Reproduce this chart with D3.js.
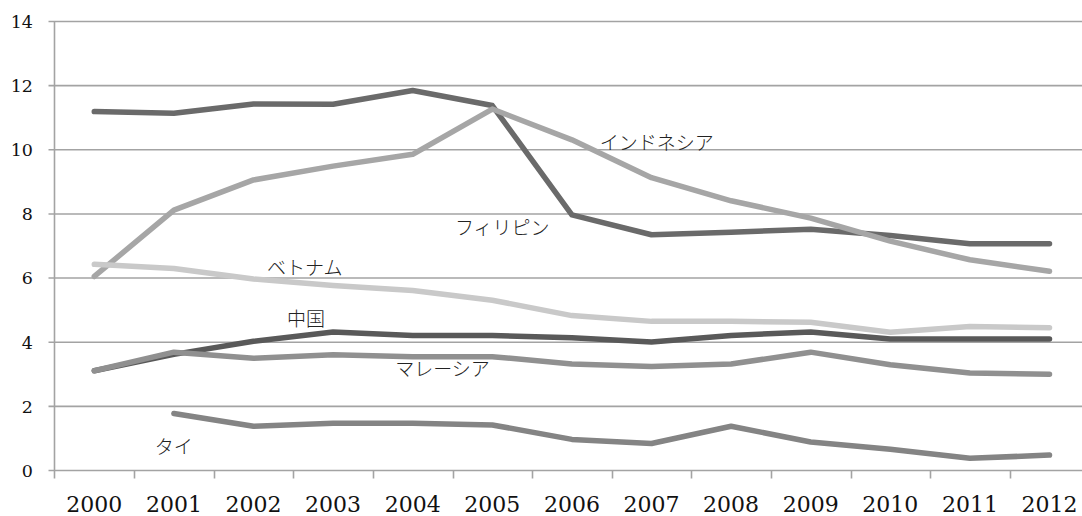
<!DOCTYPE html>
<html>
<head>
<meta charset="utf-8">
<script src="https://cdn.jsdelivr.net/npm/d3@7"></script>
<style>
  body { margin: 0; background: #fff; }
  svg { display: block; }
</style>
</head>
<body>
<div id="chart"></div>
<script>
var years = [2000, 2001, 2002, 2003, 2004, 2005, 2006, 2007, 2008, 2009, 2010, 2011, 2012];
var yTicks = [0, 2, 4, 6, 8, 10, 12, 14];

var china       = [3.11, 3.62, 4.03, 4.32, 4.21, 4.21, 4.14, 4.01, 4.21, 4.32, 4.10, 4.10, 4.10];
var philippines = [11.19, 11.14, 11.43, 11.42, 11.85, 11.38, 7.97, 7.35, 7.43, 7.52, 7.33, 7.07, 7.07];
var indonesia   = [6.05, 8.12, 9.06, 9.49, 9.86, 11.27, 10.31, 9.13, 8.41, 7.87, 7.15, 6.57, 6.21];
var vietnam     = [6.43, 6.30, 5.97, 5.77, 5.61, 5.31, 4.83, 4.65, 4.65, 4.62, 4.31, 4.49, 4.45];
var malaysia    = [3.11, 3.69, 3.50, 3.61, 3.55, 3.55, 3.32, 3.24, 3.32, 3.69, 3.30, 3.04, 3.00];
var thailand    = [null, 1.78, 1.38, 1.47, 1.47, 1.42, 0.97, 0.84, 1.38, 0.89, 0.66, 0.38, 0.48];

var seriesNames = ["中国", "フィリピン", "インドネシア", "ベトナム", "マレーシア", "タイ"];
var seriesValues = [china, philippines, indonesia, vietnam, malaysia, thailand];
var seriesColors = ["#595959", "#6a6a6a", "#a6a6a6", "#c9c9c9", "#909090", "#848484"];
// where each name label sits: [year index, value] for its left/baseline corner
var labelSpots = [[2.42, 4.5], [4.53, 7.35], [6.35, 10.0], [2.17, 6.1], [3.78, 2.95], [0.76, 0.5]];

var W = 1082, H = 516;
var left = 54.5, bandW = 79.6;
var svg = d3.select("#chart").append("svg")
  .attr("width", W).attr("height", H);

var x = d3.scaleBand()
  .domain(years)
  .range([left, left + bandW * years.length])
  .padding(0);
var y = d3.scaleLinear()
  .domain([0, 14])
  .range([470.5, 21.5]);
var cx = d => x(d) + x.bandwidth() / 2;

// gridlines
svg.append("g")
  .selectAll("line")
  .data(yTicks)
  .enter().append("line")
  .attr("x1", left - 6).attr("x2", left + bandW * years.length)
  .attr("y1", d => y(d)).attr("y2", d => y(d))
  .attr("stroke", "#a3a3a3")
  .attr("stroke-width", 1.6);

// y axis line
svg.append("line")
  .attr("x1", left).attr("x2", left)
  .attr("y1", y(14)).attr("y2", y(0) + 8)
  .attr("stroke", "#a3a3a3").attr("stroke-width", 1.6);

// x tick marks between categories
svg.append("g")
  .selectAll("line")
  .data(years.slice(1))
  .enter().append("line")
  .attr("x1", d => Math.round(x(d)) + 0.5).attr("x2", d => Math.round(x(d)) + 0.5)
  .attr("y1", y(0)).attr("y2", y(0) + 8)
  .attr("stroke", "#a3a3a3").attr("stroke-width", 1.6);

// y labels
svg.append("g")
  .selectAll("text")
  .data(yTicks)
  .enter().append("text")
  .attr("x", 33)
  .attr("y", d => y(d))
  .attr("dy", "0.36em")
  .attr("text-anchor", "end")
  .style("font-family", "'DejaVu Serif', serif")
  .style("font-size", "17.5px")
  .attr("fill", "#111")
  .text(d => d);

// x labels
svg.append("g")
  .selectAll("text")
  .data(years)
  .enter().append("text")
  .attr("x", d => cx(d))
  .attr("y", 512)
  .attr("text-anchor", "middle")
  .style("font-family", "'DejaVu Serif', serif")
  .style("font-size", "22px")
  .attr("fill", "#111")
  .text(d => d);

var line = d3.line()
  .defined(d => d.v != null)
  .x(d => cx(d.year))
  .y(d => y(d.v));

seriesValues.forEach(function(vals, i) {
  var pts = years.map((yr, j) => ({year: yr, v: vals[j]}));
  svg.append("path")
    .datum(pts)
    .attr("fill", "none")
    .attr("stroke", seriesColors[i])
    .attr("stroke-width", 5.5)
    .attr("stroke-linecap", "round")
    .attr("stroke-linejoin", "round")
    .attr("d", line);
});

// series name labels
var xi = d3.scaleLinear().domain([0, 1]).range([cx(years[0]), cx(years[1])]);
svg.append("g")
  .selectAll("text")
  .data(seriesNames)
  .enter().append("text")
  .attr("x", (d, i) => xi(labelSpots[i][0]))
  .attr("y", (d, i) => y(labelSpots[i][1]))
  .style("font-family", "'Noto Sans CJK JP', sans-serif")
  .style("font-size", "19px")
  .style("font-weight", 300)
  .attr("fill", "#222")
  .text(d => d);
</script>
</body>
</html>
